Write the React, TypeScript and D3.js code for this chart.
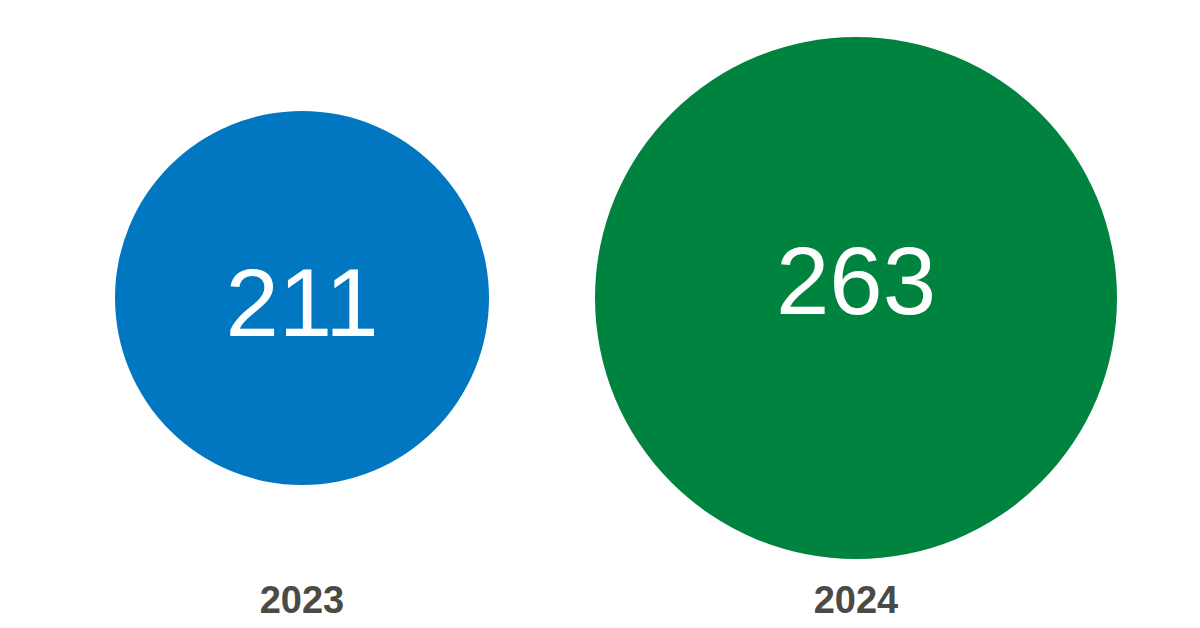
import React from "react";
import * as d3 from "d3";

const categories: string[] = ["2023", "2024"];
const values: number[] = [211, 263];
const colors: string[] = ["#0077C0", "#00833E"];
const valueLabelDy: number[] = [38, 16];

const W = 1200;
const H = 628;

export default function App() {
  const x = d3.scalePoint<string>().domain(categories).range([302, 856]);
  const r = d3
    .scaleLinear()
    .domain(d3.extent(values) as [number, number])
    .range([187, 261]);
  const cy = 298;
  const fmt = d3.format("d");

  return (
    <svg
      width={W}
      height={H}
      style={{ position: "absolute", left: 0, top: 0, background: "#fff" }}
      fontFamily="'Liberation Sans', Arial, sans-serif"
    >
      {categories.map((c, i) => (
        <g key={c}>
          <circle cx={x(c)} cy={cy} r={r(values[i])} fill={colors[i]} />
          <text
            x={x(c)}
            y={cy + valueLabelDy[i]}
            textAnchor="middle"
            fill="#ffffff"
            fontSize={96}
          >
            {fmt(values[i])}
          </text>
          <text
            x={x(c)}
            y={613}
            textAnchor="middle"
            fill="#4a4a46"
            fontSize={38}
            fontWeight="bold"
          >
            {c}
          </text>
        </g>
      ))}
    </svg>
  );
}
